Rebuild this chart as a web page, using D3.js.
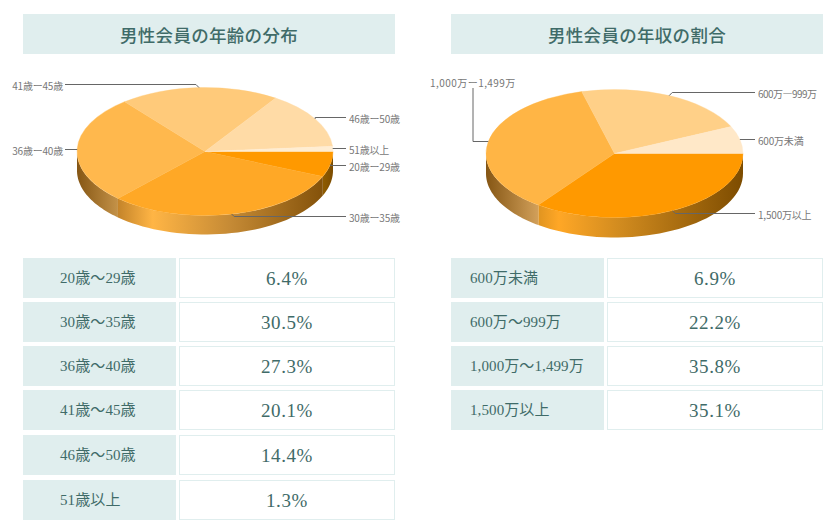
<!DOCTYPE html>
<html lang="ja">
<head>
<meta charset="utf-8">
<script src="https://cdn.jsdelivr.net/npm/d3@7"></script>
<style>
html,body{margin:0;padding:0;background:#fff;overflow:hidden}
svg{display:block}
</style>
</head>
<body>
<svg id="c" width="831" height="526"></svg>
<script>
// ---- data ----
const ageTitle = "男性会員の年齢の分布";
const ageCategories = ["20歳〜29歳","30歳〜35歳","36歳〜40歳","41歳〜45歳","46歳〜50歳","51歳以上"];
const ageValues = [6.4,30.5,27.3,20.1,14.4,1.3];
const ageCallouts = ["20歳ー29歳","30歳ー35歳","36歳ー40歳","41歳ー45歳","46歳ー50歳","51歳以上"];

const incomeTitle = "男性会員の年収の割合";
const incomeCategories = ["600万未満","600万〜999万","1,000万〜1,499万","1,500万以上"];
const incomeValues = [6.9,22.2,35.8,35.1];
const incomeCallouts = ["600万未満","600万—999万","1,000万ー1,499万","1,500万以上"];

// ---- style / layout ----
const agePie = {cx:205,cy:151.5,rx:128,ry:64,depth:19,
  order:[0,1,2,3,4,5],
  colors:["#ff9900","#ffa826","#ffb84d","#ffca7a","#ffdba6","#ffedd2"],
  side:[
    [[0,"#8f5c00"],[1,"#7c4c00"]],
    [[0,"#c4842a"],[0.17,"#ffb545"],[0.55,"#c58a35"],[1,"#84520a"]],
    [[0,"#855614"],[1,"#c49248"]]],
  leaders:[
    {y:165.5,end:346,lx:349,anchor:"start"},
    {y:216.5,end:346,lx:349,anchor:"start"},
    {y:149.5,end:65,lx:63,anchor:"end"},
    {y:84.5,end:65,lx:63,anchor:"end"},
    {y:117.5,end:346,lx:349,anchor:"start"},
    {y:148.5,end:346,lx:349,anchor:"start"}]};
const incomePie = {cx:614.5,cy:153.5,rx:128.5,ry:64,depth:20,
  order:[3,2,1,0],
  colors:["#ffe8c8","#ffd088","#ffb545","#ff9900"],
  side:[
    [[0,"#e09420"],[0.1,"#ffa726"],[0.4,"#d18b1f"],[1,"#7d4c00"]],
    [[0,"#855614"],[1,"#d2a05a"]]],
  leaders:[
    {y:139.5,end:755,lx:758,anchor:"start"},
    {y:92.5,end:755,lx:758,anchor:"start",spacing:-0.55},
    {y:141.5,end:473,up:88,lx:430,ly:81.5,anchor:"start",spacing:0.45},
    {y:213.5,end:755,lx:758,anchor:"start"}]};

const rowY = [258,302,346,390,435,480];
const textColor = "#3f6b68", panelColor = "#e0eeee", labelColor = "#777";
const serif = "'Liberation Serif','Noto Sans CJK JP',serif";
const cjk = "'Noto Sans CJK JP','Noto Sans',sans-serif";

const svg = d3.select("#c");
const defs = svg.append("defs");

function panel(x0, title, cats, vals, callouts, cfg, id, textX) {
  // header
  svg.append("rect").attr("x",x0).attr("y",14).attr("width",372).attr("height",40).attr("fill",panelColor);
  svg.append("text").attr("x",x0+186).attr("y",34).attr("text-anchor","middle")
    .attr("dominant-baseline","central")
    .style("font-family",cjk).style("font-size","17.5px").style("font-weight",500)
    .style("letter-spacing","0.3px").attr("fill",textColor).text(title);

  // pie
  const idx = cfg.order;
  const pie = d3.pie().sort(null).value(i=>vals[i])
    .startAngle(Math.PI/2).endAngle(Math.PI/2+2*Math.PI);
  const arcs = pie(idx);
  const px = a => cfg.cx + cfg.rx*Math.sin(a);
  const py = a => cfg.cy - cfg.ry*Math.cos(a);

  // side wall: parts of slices facing the viewer
  const lo = Math.PI/2, hi = 3*Math.PI/2;
  const front = arcs.filter(d=>d.startAngle<hi && d.endAngle>lo);
  front.forEach((d,i)=>{
    const a0=Math.max(d.startAngle,lo), a1=Math.min(d.endAngle,hi);
    const xs=[px(a0),px(a1)];
    const g=defs.append("linearGradient").attr("id",`${id}s${i}`)
      .attr("gradientUnits","userSpaceOnUse")
      .attr("x1",d3.min(xs)).attr("x2",d3.max(xs)).attr("y1",0).attr("y2",0);
    cfg.side[i % cfg.side.length].forEach(s=>g.append("stop").attr("offset",s[0]).attr("stop-color",s[1]));
    const p=d3.path();
    p.moveTo(px(a0),py(a0));
    const n=40;
    d3.range(1,n+1).forEach(k=>{const a=a0+(a1-a0)*k/n;p.lineTo(px(a),py(a));});
    d3.range(n,-1,-1).forEach(k=>{const a=a0+(a1-a0)*k/n;p.lineTo(px(a),py(a)+cfg.depth);});
    p.closePath();
    svg.append("path").attr("d",p.toString()).attr("fill",`url(#${id}s${i})`);
  });

  // top face
  const arc = d3.arc().innerRadius(0).outerRadius(1);
  svg.append("g").attr("transform",`translate(${cfg.cx},${cfg.cy}) scale(${cfg.rx},${cfg.ry})`)
    .selectAll("path").data(arcs).join("path")
    .attr("d",arc).attr("fill",d=>cfg.colors[d.data])
    .attr("stroke",d=>cfg.colors[d.data]).attr("stroke-width",0.004);

  // leaders and callouts
  arcs.forEach(d=>{
    const L=cfg.leaders[d.data], m=(d.startAngle+d.endAngle)/2;
    const ax=px(m), ay=py(m);
    const p=d3.path();
    p.moveTo(ax,ay);
    if (Math.abs(ay-L.y)>1.5 && L.up===undefined) {
      const dir = L.end>ax?1:-1;
      p.lineTo(ax+dir*Math.min(3,Math.abs(ay-L.y)),L.y);
    } else p.lineTo(ax,L.y);
    p.lineTo(L.end,L.y);
    if (L.up!==undefined) p.lineTo(L.end,L.up);
    svg.append("path").attr("d",p.toString()).attr("fill","none").attr("stroke","#666").attr("stroke-width",1);
    svg.append("text").attr("x",L.lx).attr("y",(L.ly!==undefined?L.ly:L.y)+0.5)
      .attr("text-anchor",L.anchor).attr("dominant-baseline","central")
      .style("font-family",cjk).style("font-size","10px")
      .style("letter-spacing",(L.spacing!==undefined?L.spacing:-0.2)+"px")
      .attr("fill",labelColor).text(callouts[d.data]);
  });

  // table
  const fmt=d3.format(".1f");
  cats.forEach((c,i)=>{
    const y=rowY[i];
    svg.append("rect").attr("x",x0).attr("y",y).attr("width",153).attr("height",40).attr("fill",panelColor);
    svg.append("rect").attr("x",x0+156.5).attr("y",y+.5).attr("width",215).attr("height",39)
      .attr("fill","#fff").attr("stroke",panelColor);
    svg.append("text").attr("x",textX).attr("y",y+20).attr("dominant-baseline","central")
      .style("font-family",serif).style("font-size","15px").style("font-weight",400)
      .style("letter-spacing","0.1px").attr("fill",textColor).text(c);
    svg.append("text").attr("x",x0+264).attr("y",y+20.5).attr("text-anchor","middle").attr("dominant-baseline","central")
      .style("font-family",serif).style("font-size","19px").style("letter-spacing","0.6px")
      .attr("fill",textColor).text(fmt(vals[i])+"%");
  });
}

panel(23, ageTitle, ageCategories, ageValues, ageCallouts, agePie, "a", 60);
panel(451, incomeTitle, incomeCategories, incomeValues, incomeCallouts, incomePie, "b", 470);
</script>
</body>
</html>
